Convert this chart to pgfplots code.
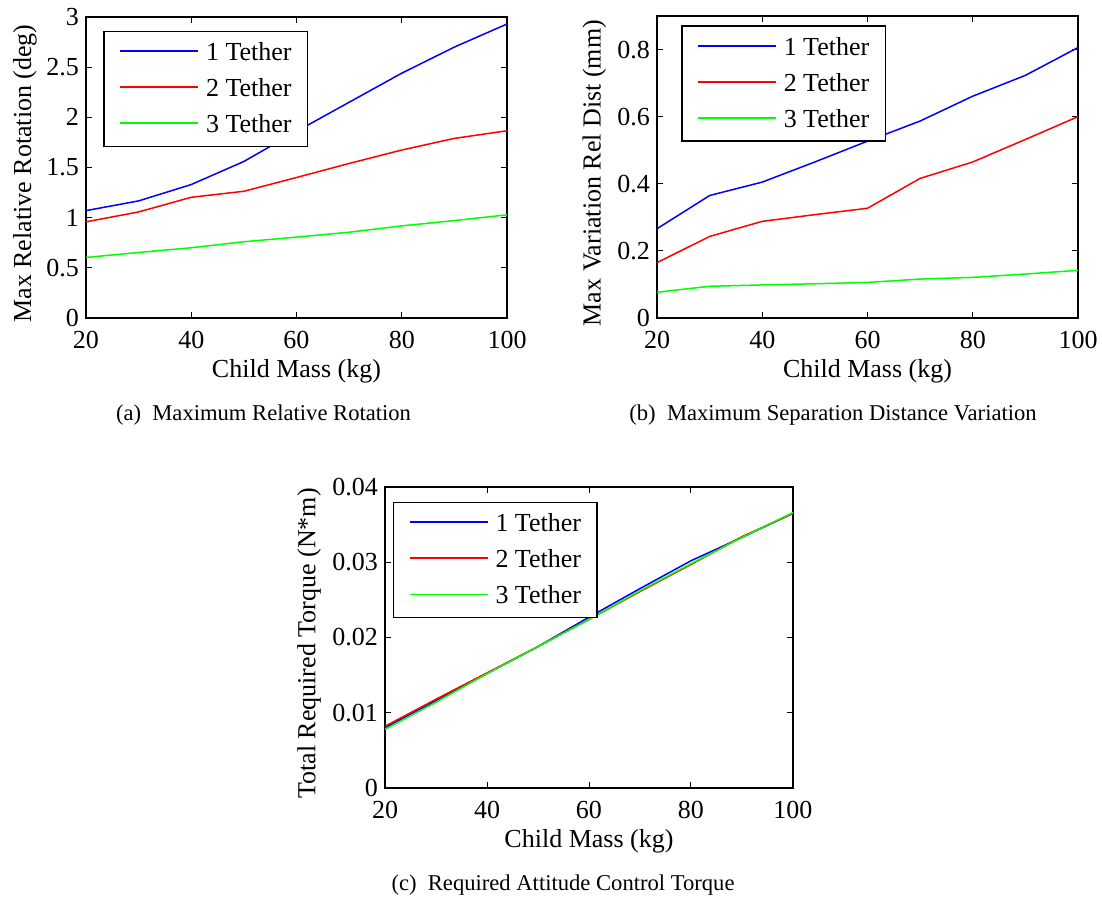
\documentclass[border=0pt]{standalone}
\usepackage{fontspec}
\setmainfont{Liberation Serif}
\usepackage{pgfplots}
\usepackage{pgfplotstable}
\pgfplotsset{compat=1.18}

\newcommand{\tickfont}{\fontsize{13}{15}\selectfont}
\newcommand{\capfont}{\fontsize{11.3}{13}\selectfont}
% legend sample drawn as a coloured rule in front of the entry text
\newcommand{\legline}[1]{\textcolor{#1}{\rule[0.33em]{39pt}{0.75pt}}\hspace{4pt}}

% child mass (kg) vs. the three tether configurations
\pgfplotstableread{
m    t1     t2     t3
20   1.07   0.958  0.603
30   1.167  1.057  0.653
40   1.33   1.203  0.70
50   1.56   1.263  0.76
60   1.86   1.40   0.806
70   2.15   1.54   0.855
80   2.44   1.674  0.918
90   2.70   1.79   0.971
100  2.93   1.866  1.028
}\rotdata
\pgfplotstableread{
m    t1     t2     t3
20   0.266  0.165  0.0766
30   0.365  0.243  0.0945
40   0.405  0.288  0.0985
50   0.465  0.308  0.102
60   0.527  0.327  0.106
70   0.587  0.416  0.116
80   0.661  0.465  0.121
90   0.723  0.532  0.131
100  0.806  0.600  0.142
}\distdata
\pgfplotstableread{
m    t1      t2      t3
20   0.0080  0.0082  0.0078
30   0.0116  0.0118  0.0114
40   0.0152  0.0153  0.0152
50   0.0188  0.0188  0.0188
60   0.0227  0.0224  0.0224
70   0.0265  0.0261  0.0262
80   0.0302  0.0297  0.0298
90   0.0333  0.0334  0.0333
100  0.0365  0.0365  0.0366
}\torqdata

\pgfplotsset{
  mlab/.style={
    scale only axis,
    xmin=20, xmax=100,
    xtick={20,40,60,80,100},
    scaled y ticks=false,
    tick align=inside,
    xtick pos=both, ytick pos=both,
    major tick length=3pt,
    axis line style={line width=0.8pt},
    every tick/.style={black, line width=0.5pt},
    ticklabel style={font=\tickfont},
    label style={font=\tickfont},
    /pgf/number format/assume math mode=true,
    xticklabel style={yshift=-3pt},
    xlabel={Child Mass (kg)},
    legend cell align=left,
    legend style={font=\tickfont, line width=0.75pt,
      inner xsep=8pt, inner ysep=3.5pt, row sep=3.5pt, column sep=0pt,
      nodes={inner xsep=0pt, inner ysep=2pt}},
    legend image code/.code={},
    every axis plot/.append style={line width=0.75pt},
  },
}

\begin{document}
\begin{tikzpicture}
\useasboundingbox (0pt,0pt) rectangle (551pt,448.5pt);

% (a)
\begin{axis}[mlab,
  at={(43pt,289.5pt)}, anchor=south west,
  width=210.5pt, height=150.5pt,
  ymin=0, ymax=3,
  ytick={0,0.5,1,1.5,2,2.5,3},
  yticklabels={0,0.5,1,1.5,2,2.5,3},
  ylabel={Max Relative Rotation (deg)},
  ylabel style={at={(axis description cs:-0.145,0.48)}, anchor=center},
  xlabel style={at={(axis description cs:0.5,-0.176)}, anchor=center},
  legend style={at={(0.041,0.955)}, anchor=north west},
]
\addplot[blue] table[x=m,y=t1] {\rotdata};
\addplot[red] table[x=m,y=t2] {\rotdata};
\addplot[green] table[x=m,y=t3] {\rotdata};
\legend{\legline{blue}1 Tether,\legline{red}2 Tether,\legline{green}3 Tether}
\end{axis}

% (b)
\begin{axis}[mlab,
  at={(328.5pt,289.5pt)}, anchor=south west,
  width=210.5pt, height=151pt,
  ymin=0, ymax=0.9,
  ytick={0,0.2,0.4,0.6,0.8},
  yticklabels={0,0.2,0.4,0.6,0.8},
  ylabel={Max Variation Rel Dist (mm)},
  ylabel style={at={(axis description cs:-0.149,0.48)}, anchor=center},
  xlabel style={at={(axis description cs:0.5,-0.176)}, anchor=center},
  legend style={at={(0.057,0.969)}, anchor=north west},
]
\addplot[blue] table[x=m,y=t1] {\distdata};
\addplot[red] table[x=m,y=t2] {\distdata};
\addplot[green] table[x=m,y=t3] {\distdata};
\legend{\legline{blue}1 Tether,\legline{red}2 Tether,\legline{green}3 Tether}
\end{axis}

% (c)
\begin{axis}[mlab,
  at={(192.5pt,54.5pt)}, anchor=south west,
  width=204pt, height=150.5pt,
  ymin=0, ymax=0.04,
  ytick={0,0.01,0.02,0.03,0.04},
  yticklabels={0,0.01,0.02,0.03,0.04},
  ylabel={Total Required Torque (N*m)},
  ylabel style={at={(axis description cs:-0.186,0.48)}, anchor=center},
  xlabel style={at={(axis description cs:0.5,-0.176)}, anchor=center},
  legend style={at={(0.019,0.951)}, anchor=north west},
]
\addplot[blue] table[x=m,y=t1] {\torqdata};
\addplot[red] table[x=m,y=t2] {\torqdata};
\addplot[green] table[x=m,y=t3] {\torqdata};
\legend{\legline{blue}1 Tether,\legline{red}2 Tether,\legline{green}3 Tether}
\end{axis}

\node[font=\capfont] at (131.75pt,241pt) {(a)\hspace{0.5em}Maximum Relative Rotation};
\node[font=\capfont] at (416.5pt,241pt) {(b)\hspace{0.5em}Maximum Separation Distance Variation};
\node[font=\capfont] at (281.5pt,6pt) {(c)\hspace{0.5em}Required Attitude Control Torque};
\end{tikzpicture}
\end{document}
